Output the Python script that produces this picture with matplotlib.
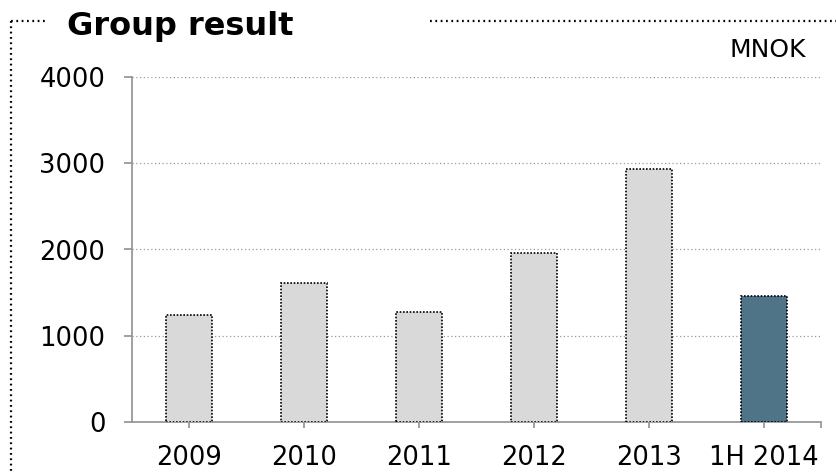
import matplotlib
matplotlib.use("Agg")
import matplotlib.pyplot as plt
from matplotlib.lines import Line2D

# ----------------------------
# Data (MNOK)
# ----------------------------
periods = ["2009", "2010", "2011", "2012", "2013", "1H 2014"]
group_result = [1240, 1607, 1270, 1956, 2931, 1464]
bar_colors = ["#d9d9d9", "#d9d9d9", "#d9d9d9", "#d9d9d9", "#d9d9d9", "#4f7387"]
y_ticks = [0, 1000, 2000, 3000, 4000]

W, H = 837, 473
fig = plt.figure(figsize=(W / 100, H / 100), dpi=100)
plt.rcParams["font.family"] = ["DejaVu Sans"]

# axes placed in pixel terms
left, right, bottom, top = 131.7, 821.5, 421.7, 77.3
ax = fig.add_axes([left / W, 1 - bottom / H, (right - left) / W, (bottom - top) / H])

x = list(range(len(periods)))
ax.bar(x, group_result, width=0.4, color=bar_colors, edgecolor="black",
       linewidth=1.2, linestyle=(0, (1, 1)), zorder=3)

ax.set_xlim(-0.5, len(periods) - 0.5)
ax.set_ylim(0, 4000)
ax.set_yticks(y_ticks)
ax.set_xticks(x)
ax.set_xticklabels(periods)
ax.set_xticks([len(periods) - 0.5], minor=True)

ax.grid(axis="y", color="#9a9a9a", linestyle=(0, (1, 2)), linewidth=0.9)
ax.set_axisbelow(True)

for s in ["top", "right"]:
    ax.spines[s].set_visible(False)
for s in ["left", "bottom"]:
    ax.spines[s].set_color("#999999")
    ax.spines[s].set_linewidth(1.3)

ax.tick_params(axis="y", length=6, width=1.3, color="#999999", pad=13, labelsize=18.5)
ax.tick_params(axis="x", which="both", length=4.5, width=1.3, color="#999999",
               pad=12, labelsize=18.5)

# title, unit and dotted frame
fig.text(67 / W, 1 - 35 / H, "Group result", fontsize=23, fontweight="bold",
         va="baseline", ha="left")
fig.text(806 / W, 1 - 57 / H, "MNOK", fontsize=18, va="baseline", ha="right")

frame_style = dict(color="black", linewidth=1.6, linestyle=(0, (0.8, 1.6)),
                   transform=fig.transFigure)
fy = 1 - 21 / H
fig.add_artist(Line2D([11 / W, 45 / W], [fy, fy], **frame_style))
fig.add_artist(Line2D([430 / W, 1.0], [fy, fy], **frame_style))
fig.add_artist(Line2D([11 / W, 11 / W], [fy, 0.0], **frame_style))

fig.savefig("out.png", dpi=100)
